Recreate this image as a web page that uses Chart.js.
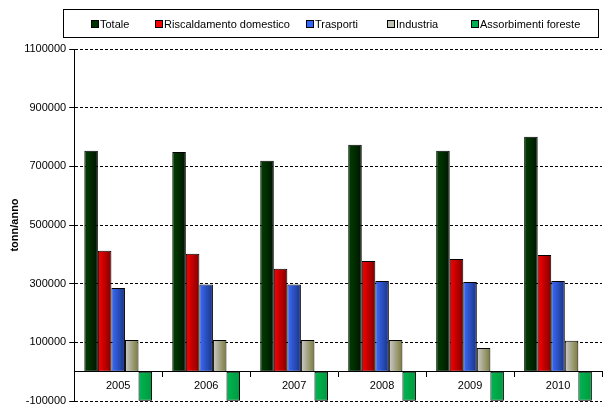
<!DOCTYPE html>
<html>
<head>
<meta charset="utf-8">
<script src="https://cdn.jsdelivr.net/npm/chart.js@4/dist/chart.umd.min.js"></script>
<style>
  html, body { margin: 0; padding: 0; background: #fff; }
  #wrap { position: relative; width: 609px; height: 418px; }
  #legend {
    position: absolute; left: 63px; top: 9px; width: 536px; height: 29px;
    border: 1px solid #000;
    font: 11px 'Liberation Sans', Arial, sans-serif; color: #000;
    display: flex; align-items: center; padding-left: 27px; box-sizing: border-box;
  }
  #legend .item { display: flex; align-items: center; white-space: nowrap; }
  #legend .box { width: 6px; height: 6px; border: 1px solid #000; margin-right: 1px; }
</style>
</head>
<body>
<div id="wrap">
  <canvas id="myChart" width="609" height="418"></canvas>
  <div id="legend"></div>
</div>
<script>
const YEARS = ['2005', '2006', '2007', '2008', '2009', '2010'];
const TOTALE = [753000, 749000, 719000, 774000, 753000, 801000];
const RISCALDAMENTO = [412000, 402000, 351000, 377000, 384000, 398000];
const TRASPORTI = [285000, 297000, 297000, 309000, 306000, 309000];
const INDUSTRIA = [108000, 108000, 108000, 108000, 81000, 105000];
const ASSORBIMENTI = [-99000, -99000, -99000, -99000, -99000, -99000];
const Y_MIN = -100000;
const Y_MAX = 1100000;
const Y_STEP = 200000;

const CAT_PCT = 0.77;
const SERIES = 5;
const FONT = 'Liberation Sans, Arial, sans-serif';

const legendColors = ['#003300', '#ff0000', '#3366ff', '#c0c0b0', '#00b050'];
const legendWidths = [64, 151, 81, 84, null];

// horizontal gradient for each bar, built from the scale
function barGradient(light, dark) {
  return function(context) {
    if (context.type !== 'data') {
      return light;
    }
    const chart = context.chart;
    const xScale = chart.scales.x;
    if (!xScale || !xScale.width) {
      return light;
    }
    const catW = xScale.width / YEARS.length;
    const groupW = catW * CAT_PCT;
    const slot = groupW / SERIES;
    const center = xScale.getPixelForValue(context.dataIndex);
    const left = center - groupW / 2 + slot * context.datasetIndex;
    const g = chart.ctx.createLinearGradient(left, 0, left + slot, 0);
    g.addColorStop(0, light);
    g.addColorStop(1, dark);
    return g;
  };
}

const ctx = document.getElementById('myChart').getContext('2d');
const chart = new Chart(ctx, {
  type: 'bar',
  data: {
    labels: YEARS,
    datasets: [{
      label: 'Totale',
      data: TOTALE,
      backgroundColor: barGradient('#004000', '#001400'),
    },
    {
      label: 'Riscaldamento domestico',
      data: RISCALDAMENTO,
      backgroundColor: barGradient('#ff0000', '#800000'),
    },
    {
      label: 'Trasporti',
      data: TRASPORTI,
      backgroundColor: barGradient('#3a6cff', '#1a3380'),
    },
    {
      label: 'Industria',
      data: INDUSTRIA,
      backgroundColor: barGradient('#cccccc', '#7a7a3a'),
    },
    {
      label: 'Assorbimenti foreste',
      data: ASSORBIMENTI,
      backgroundColor: barGradient('#00b552', '#009a3e'),
    }]
  },
  options: {
    responsive: false,
    animation: false,
    devicePixelRatio: 1,
    datasets: {
      bar: {
        borderColor: '#000',
        borderWidth: 1,
        borderSkipped: false,
        barPercentage: 1,
        categoryPercentage: CAT_PCT,
      }
    },
    layout: {
      padding: { top: 49, right: 7, bottom: 17, left: 8 }
    },
    plugins: {
      tooltip: { enabled: false },
      legend: { display: false },
    },
    scales: {
      x: {
        position: { y: 0 },
        grid: {
          display: true,
          drawOnChartArea: false,
          drawTicks: true,
          tickLength: 5,
          color: '#000',
        },
        border: { display: true, color: '#000', width: 1 },
        ticks: {
          color: '#000',
          padding: 3,
          font: { family: FONT, size: 11 },
        }
      },
      y: {
        min: Y_MIN,
        max: Y_MAX,
        grid: {
          color: '#000',
          lineWidth: 1,
          tickLength: 5,
        },
        border: { display: true, color: '#000', width: 1, dash: [3, 2] },
        ticks: {
          stepSize: Y_STEP,
          color: '#000',
          padding: 3,
          font: { family: FONT, size: 11 },
          callback: value => String(value),
        },
        title: {
          display: true,
          text: 'tonn/anno',
          color: '#000',
          font: { family: FONT, size: 11, weight: 'bold' },
          padding: { top: 0, bottom: 0 },
        }
      }
    }
  },
});

// legend drawn as html, colours taken from the datasets list
const legendEl = document.getElementById('legend');
chart.data.datasets.forEach((ds, i) => {
  const item = document.createElement('span');
  item.className = 'item';
  if (legendWidths[i]) {
    item.style.width = legendWidths[i] + 'px';
  }
  const box = document.createElement('span');
  box.className = 'box';
  box.style.background = legendColors[i];
  item.appendChild(box);
  item.appendChild(document.createTextNode(ds.label));
  legendEl.appendChild(item);
});
</script>
</body>
</html>
